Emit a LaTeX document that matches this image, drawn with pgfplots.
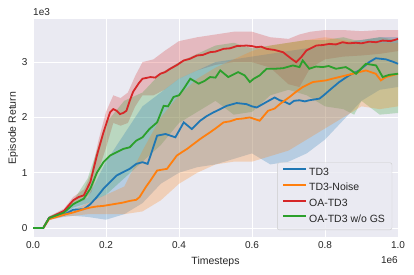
\documentclass[border=0pt]{standalone}
\usepackage{fontspec}
\setmainfont{Liberation Sans}
\usepackage{pgfplots}
\usepackage{pgfplotstable}
\pgfplotsset{compat=1.18}
\usepgfplotslibrary{fillbetween}
\definecolor{bg}{HTML}{EAEAF2}
\definecolor{cblue}{HTML}{1F77B4}
\definecolor{corange}{HTML}{FF7F0E}
\definecolor{cred}{HTML}{D62728}
\definecolor{cgreen}{HTML}{2CA02C}
\definecolor{txt}{HTML}{262626}
\definecolor{legedge}{HTML}{CCCCCC}

% mean curves (x in 1e6, y in 1e3)
\pgfplotstableread{
x m
0 0.0
0.028 0.0
0.044 0.18
0.085 0.31
0.11 0.50
0.125 0.56
0.139 0.59
0.157 0.83
0.175 1.31
0.193 1.73
0.211 2.09
0.22 2.15
0.229 2.12
0.238 2.06
0.247 2.08
0.256 2.12
0.265 2.30
0.274 2.46
0.29 2.62
0.30 2.70
0.322 2.73
0.335 2.72
0.349 2.79
0.362 2.82
0.376 2.88
0.395 2.95
0.413 3.03
0.43 3.06
0.449 3.12
0.465 3.13
0.485 3.18
0.50 3.19
0.522 3.24
0.54 3.25
0.558 3.29
0.585 3.30
0.60 3.29
0.613 3.27
0.625 3.28
0.64 3.24
0.662 3.22
0.685 3.18
0.708 3.06
0.721 3.00
0.735 3.09
0.749 3.21
0.776 3.30
0.795 3.31
0.812 3.33
0.83 3.32
0.848 3.36
0.865 3.34
0.885 3.35
0.90 3.34
0.921 3.37
0.94 3.36
0.958 3.39
0.98 3.38
1.0 3.42
}\redm
\pgfplotstableread{
x m
0 0.0
0.028 0.0
0.044 0.18
0.085 0.28
0.11 0.43
0.139 0.53
0.157 0.71
0.175 1.00
0.193 1.19
0.211 1.31
0.229 1.37
0.247 1.43
0.265 1.46
0.283 1.58
0.30 1.64
0.319 1.79
0.34 1.91
0.358 2.21
0.37 2.20
0.385 2.37
0.40 2.40
0.413 2.52
0.431 2.70
0.454 2.61
0.47 2.66
0.485 2.73
0.50 2.72
0.513 2.85
0.535 2.73
0.55 2.78
0.562 2.82
0.58 2.76
0.594 2.64
0.605 2.70
0.621 2.76
0.64 2.88
0.662 2.88
0.685 2.89
0.712 2.94
0.73 2.91
0.739 3.03
0.757 2.88
0.775 2.92
0.794 2.91
0.81 2.93
0.83 2.88
0.857 2.91
0.87 2.86
0.885 2.79
0.912 2.97
0.94 2.94
0.958 2.73
0.976 2.77
1.0 2.79
}\greenm
\pgfplotstableread{
x m
0 0.0
0.028 0.0
0.044 0.18
0.085 0.24
0.11 0.33
0.139 0.34
0.157 0.43
0.175 0.56
0.193 0.71
0.211 0.83
0.229 0.95
0.247 1.01
0.265 1.07
0.283 1.16
0.30 1.19
0.314 1.16
0.322 1.31
0.34 1.67
0.363 1.70
0.39 1.64
0.413 1.91
0.435 1.79
0.458 1.94
0.475 2.02
0.494 2.09
0.51 2.14
0.531 2.21
0.558 2.26
0.585 2.24
0.60 2.20
0.613 2.18
0.64 2.28
0.662 2.36
0.676 2.31
0.69 2.28
0.703 2.24
0.715 2.30
0.73 2.31
0.745 2.29
0.757 2.31
0.785 2.34
0.80 2.42
0.812 2.49
0.839 2.64
0.866 2.76
0.894 2.85
0.921 3.00
0.939 3.07
0.967 3.05
0.985 3.01
1.0 2.97
}\bluem
\pgfplotstableread{
x m
0 0.0
0.028 0.0
0.044 0.16
0.085 0.24
0.11 0.28
0.139 0.34
0.157 0.37
0.175 0.39
0.193 0.40
0.211 0.42
0.247 0.46
0.265 0.49
0.283 0.51
0.292 0.56
0.31 0.75
0.322 0.86
0.34 1.04
0.367 1.07
0.394 1.31
0.41 1.38
0.422 1.43
0.44 1.52
0.458 1.61
0.485 1.73
0.50 1.80
0.522 1.91
0.54 1.93
0.558 1.97
0.575 1.98
0.594 2.00
0.621 1.94
0.644 2.12
0.662 2.16
0.676 2.24
0.703 2.37
0.72 2.46
0.739 2.55
0.767 2.64
0.803 2.67
0.82 2.70
0.839 2.73
0.876 2.79
0.912 2.85
0.939 2.79
0.953 2.67
0.967 2.73
1.0 2.79
}\orangem

% bands: lower / upper
\pgfplotstableread{
x lo hi
0 -0.01 0.01
0.028 -0.01 0.01
0.044 0.15 0.21
0.085 0.27 0.35
0.11 0.44 0.56
0.14 0.50 0.70
0.16 0.65 1.00
0.18 1.05 1.60
0.2 1.45 2.10
0.22 1.90 2.40
0.24 1.85 2.35
0.26 1.90 2.45
0.28 2.20 2.75
0.30 2.40 3.00
0.33 2.40 3.05
0.36 2.50 3.20
0.40 2.70 3.38
0.45 2.85 3.45
0.50 2.95 3.50
0.55 3.00 3.55
0.60 3.00 3.55
0.65 2.90 3.45
0.70 2.60 3.42
0.73 2.55 3.50
0.76 2.90 3.55
0.80 3.05 3.58
0.85 3.10 3.58
0.90 3.12 3.56
0.95 3.15 3.58
1.0 3.20 3.58
}\redb
\pgfplotstableread{
x lo hi
0 -0.01 0.01
0.028 -0.01 0.01
0.044 0.15 0.21
0.085 0.24 0.32
0.11 0.37 0.49
0.15 0.45 0.90
0.2 0.60 1.90
0.25 0.90 2.30
0.3 1.20 2.45
0.35 1.50 2.80
0.4 1.90 3.00
0.45 2.10 3.15
0.5 2.30 3.30
0.55 2.05 3.35
0.6 2.10 3.25
0.65 2.40 3.30
0.7 2.50 3.35
0.75 2.40 3.40
0.8 2.20 3.40
0.85 2.15 3.45
0.88 2.05 3.40
0.9 2.30 3.40
0.95 2.05 3.45
1.0 2.08 3.40
}\greenb
\pgfplotstableread{
x lo hi
0 -0.01 0.01
0.028 -0.01 0.01
0.044 0.15 0.21
0.085 0.20 0.28
0.11 0.22 0.42
0.15 0.20 0.55
0.2 0.15 1.20
0.25 0.25 1.70
0.3 0.45 2.20
0.35 0.80 2.45
0.4 1.00 2.70
0.45 1.10 2.85
0.5 1.15 3.00
0.55 1.25 3.05
0.6 1.35 3.10
0.65 1.15 3.15
0.7 1.20 3.20
0.75 1.35 3.25
0.8 1.60 3.30
0.85 1.95 3.35
0.9 2.30 3.40
0.95 2.50 3.45
1.0 2.55 3.45
}\blueb
\pgfplotstableread{
x lo hi
0 -0.01 0.01
0.028 -0.01 0.01
0.044 0.14 0.19
0.085 0.21 0.28
0.11 0.22 0.33
0.15 0.25 0.45
0.2 0.25 0.60
0.25 0.25 0.75
0.3 0.30 1.40
0.35 0.50 2.00
0.4 0.80 2.40
0.45 1.00 2.70
0.5 1.15 2.90
0.55 1.20 3.05
0.6 1.20 3.20
0.65 1.30 3.30
0.7 1.40 3.35
0.75 1.60 3.40
0.8 1.80 3.45
0.85 2.00 3.40
0.9 2.20 3.35
0.95 2.15 3.35
1.0 2.20 3.35
}\orangeb

\begin{document}
\begin{tikzpicture}
\begin{axis}[
  width=365pt, height=218pt, scale only axis,
  xmin=0, xmax=1, ymin=-0.163, ymax=3.78,
  axis background/.style={fill=bg},
  axis line style={draw=none},
  grid=major, major grid style={white, line width=0.9pt},
  tick style={draw=none},
  xtick={0,0.2,0.4,0.6,0.8,1.0}, xticklabels={0.0,0.2,0.4,0.6,0.8,1.0},
  ytick={0,1,2,3},
  /pgf/number format/assume math mode=true,
  tick label style={font=\fontsize{10}{12}\selectfont, text=txt},
  yticklabel style={xshift=-2pt},
  xticklabel style={yshift=-1pt},
  legend style={at={(rel axis cs:0.984,0.032)}, anchor=south east,
    fill=bg, fill opacity=0.8, text opacity=1, draw=legedge,
    rounded corners=2pt, font=\fontsize{10.5}{12}\selectfont, text=txt,
    nodes={inner sep=2pt, text height=7.5pt, text depth=2.5pt},
    row sep=1.7pt, inner xsep=5pt, inner ysep=3pt},
  legend cell align=left,
  legend image code/.code={\draw[#1, line width=1.8pt] (0pt,3.5pt) -- (23pt,3.5pt);},
]
\addlegendimage{draw=cblue}
\addlegendentry{TD3}
\addlegendimage{draw=corange}
\addlegendentry{TD3-Noise}
\addlegendimage{draw=cred}
\addlegendentry{OA-TD3}
\addlegendimage{draw=cgreen}
\addlegendentry{OA-TD3 w/o GS}
% bands
\addplot[name path=rl, draw=none, forget plot] table[x=x,y=lo]{\redb};
\addplot[name path=rh, draw=none, forget plot] table[x=x,y=hi]{\redb};
\addplot[fill=cred, fill opacity=0.25, draw=none, forget plot] fill between[of=rl and rh];
\addplot[name path=gl, draw=none, forget plot] table[x=x,y=lo]{\greenb};
\addplot[name path=gh, draw=none, forget plot] table[x=x,y=hi]{\greenb};
\addplot[fill=cgreen, fill opacity=0.25, draw=none, forget plot] fill between[of=gl and gh];
\addplot[name path=bl, draw=none, forget plot] table[x=x,y=lo]{\blueb};
\addplot[name path=bh, draw=none, forget plot] table[x=x,y=hi]{\blueb};
\addplot[fill=cblue, fill opacity=0.25, draw=none, forget plot] fill between[of=bl and bh];
\addplot[name path=ol, draw=none, forget plot] table[x=x,y=lo]{\orangeb};
\addplot[name path=oh, draw=none, forget plot] table[x=x,y=hi]{\orangeb};
\addplot[fill=corange, fill opacity=0.25, draw=none, forget plot] fill between[of=ol and oh];
% means
\addplot[draw=cblue, line width=1.8pt, opacity=1, forget plot] table[x=x,y=m]{\bluem};
\addplot[draw=corange, line width=1.8pt, opacity=1, forget plot] table[x=x,y=m]{\orangem};
\addplot[draw=cred, line width=1.8pt, opacity=1, forget plot] table[x=x,y=m]{\redm};
\addplot[draw=cgreen, line width=1.8pt, opacity=1, forget plot] table[x=x,y=m]{\greenm};
\end{axis}
\node[anchor=south west, inner sep=0pt, font=\fontsize{10}{12}\selectfont, text=txt] at (0pt,221pt) {1e3};
\node[anchor=base east, inner sep=0pt, font=\fontsize{10}{12}\selectfont, text=txt] at (365pt,-26.5pt) {1e6};
\node[anchor=base, inner sep=0pt, font=\fontsize{10.5}{12}\selectfont, text=txt] at (182.5pt,-27pt) {Timesteps};
\node[anchor=base, rotate=90, inner sep=0pt, font=\fontsize{10.5}{12}\selectfont, text=txt] at (-17pt,109pt) {Episode Return};
\path (-33pt,-37pt) rectangle (381pt,237pt);
\end{tikzpicture}
\end{document}
